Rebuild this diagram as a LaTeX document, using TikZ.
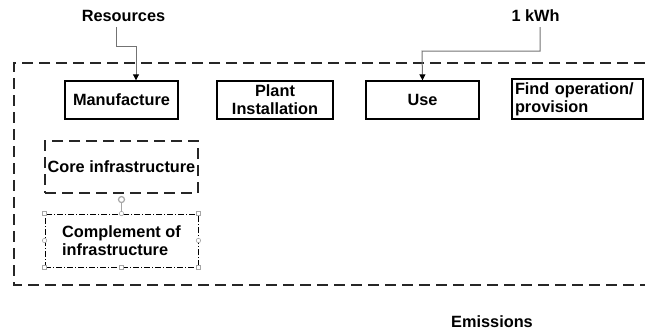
\documentclass[tikz,border=0pt]{standalone}
\usepackage{fontspec}
\setmainfont{Liberation Sans}
\usetikzlibrary{arrows.meta}
\begin{document}
\begin{tikzpicture}[x=1pt,y=-1pt,
  txt/.style={font=\bfseries\fontsize{16.3}{18}\selectfont, inner sep=0pt},
  box/.style={txt, draw=black, line width=1.4pt, minimum height=38pt, align=center},
  dsh/.style={line width=1.6pt, dash pattern=on 11pt off 6pt, draw=black!85},
  conn/.style={draw=black!55, line width=1pt, -{Triangle[width=6pt,length=6pt,fill=black,color=black]}},
  handle/.style={draw=black!35, fill=white, line width=0.6pt}
]
\useasboundingbox (0,0) rectangle (645,330);
% outer dashed boundary
\draw[dsh] (645,63) -- (14,63) -- (14,285) -- (645,285);
% labels
\node[txt] (res) at (123.5,16) {Resources};
\node[txt] (kwh) at (535.5,16) {1 kWh};
\node[txt] (emi) at (492,322) {Emissions};
% process boxes
\node[box, minimum width=113pt] (man) at (121.5,100) {Manufacture};
\node[box, minimum width=116pt] (pla) at (275,100) {Plant\\Installation};
\node[box, minimum width=113pt] (use) at (422.5,100) {Use};
\node[box, minimum width=131pt, minimum height=40pt, align=left, text width=125pt] (fin) at (577.5,99) {Find operation/\\provision};
% infrastructure boxes
\node[txt, dsh, minimum width=153pt, minimum height=52pt] (cor) at (121.5,167) {Core infrastructure};
\node[txt, draw=black, line width=0.9pt, dash pattern=on 6pt off 2pt on 1pt off 2pt, minimum width=153pt, minimum height=53pt, align=left] (com) at (121.5,240.5) {Complement of\\infrastructure};
% selection handles
\draw[black!35, line width=0.7pt] (com.north) -- ++(0,-11);
\draw[black!35, line width=1.2pt] ([yshift=14pt]com.north) circle (3pt);
\foreach \a in {north west, north east, south west, south east, south}
  \draw[handle] ([xshift=-2pt,yshift=2pt]com.\a) rectangle ++(4,4);
\foreach \a in {north, west, east}
  \draw[handle] (com.\a) circle (2.2pt);
% connectors
\draw[conn] ([xshift=-7.5pt]res.south) ++(0,5) |- ++(20,20) -- ([xshift=14.5pt]man.north);
\draw[conn] ([xshift=4.5pt]kwh.south) ++(0,5) |- ++(-118,24) -- (use.north);
\end{tikzpicture}
\end{document}
